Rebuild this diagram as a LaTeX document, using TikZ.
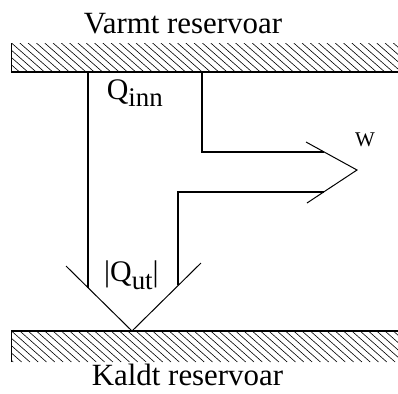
\documentclass[tikz,border=0pt]{standalone}
\usepackage{fontspec}
\setmainfont{Liberation Serif}
\newcommand\lowtext[1]{\raisebox{-7.5bp}{\fontsize{27}{27}\selectfont #1}}
\begin{document}
\begin{tikzpicture}[x=1bp,y=-1bp,
	wall/.style={line width=1.6bp},
	flow/.style={line width=1.6bp},
	tip/.style={line width=1bp},
	hatch/.style={line width=0.6bp},
	big/.style={font=\fontsize{31}{36}\selectfont,inner sep=0pt,anchor=base},
	lbl/.style={font=\fontsize{30}{34}\selectfont,inner sep=0pt,anchor=base west},
	wlbl/.style={font=\fontsize{21}{25}\selectfont,inner sep=0pt,anchor=base west}]
	\useasboundingbox (0,0) rectangle (398,394);
	% reservoirs
	\begin{scope}
		\clip (11,43) rectangle (398,72);
		\foreach \x in {-30,-21.7,...,400} \draw[hatch] (\x,43)--++(33,29);
	\end{scope}
	\begin{scope}
		\clip (11,331) rectangle (398,362);
		\foreach \x in {-30,-21.7,...,400} \draw[hatch] (\x,331)--++(35,31);
	\end{scope}
	\coordinate (H1) at (11.5,43);\coordinate (H2) at (11.5,72);\coordinate (H3) at (398,72);
	\coordinate (K1) at (11.5,362);\coordinate (K2) at (11.5,331);\coordinate (K3) at (398,331);
	\draw[wall] (H1)--(H2)--(H3);
	\draw[wall] (K1)--(K2)--(K3);
	% heat and work
	\coordinate (A) at (88,72);\coordinate (B) at (88,288);
	\coordinate (C) at (202,72);\coordinate (D) at (202,152);\coordinate (E) at (324,152);
	\coordinate (F) at (178,285);\coordinate (G) at (178,192);\coordinate (I) at (324,192);
	\coordinate (L) at (66,266);\coordinate (T) at (132,331);\coordinate (R) at (201,263);
	\coordinate (U) at (306,142);\coordinate (S) at (357,170);\coordinate (V) at (307,203);
	\draw[flow] (A)--(B);
	\draw[flow] (C)--(D)--(E);
	\draw[flow] (F)--(G)--(I);
	\draw[tip] (L)--(T)--(R);
	\draw[tip] (U)--(S)--(V);
	\node[big] (varmt) at (183,33.3) {Varmt reservoar};
	\node[big] (kaldt) at (187.5,385) {Kaldt reservoar};
	\node[lbl] (qinn) at (106.7,99) {Q\lowtext{inn}};
	\node[lbl] (qut) at (104,281.7) {|Q\lowtext{ut}|};
	\node[wlbl] (w) at (355,146.7) {W};
\end{tikzpicture}
\end{document}
